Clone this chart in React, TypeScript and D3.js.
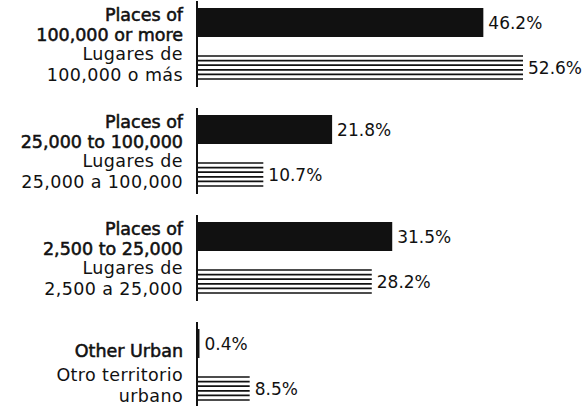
import React, { useEffect, useRef } from "react";
import * as d3 from "d3";

// Categories (English / Spanish labels, one array entry per line)
const categories = ["p100k", "p25k", "p2500", "other"];
const labelsEn: string[][] = [
  ["Places of", "100,000 or more"],
  ["Places of", "25,000 to 100,000"],
  ["Places of", "2,500 to 25,000"],
  ["Other Urban"],
];
const labelsEs: string[][] = [
  ["Lugares de", "100,000 o más"],
  ["Lugares de", "25,000 a 100,000"],
  ["Lugares de", "2,500 a 25,000"],
  ["Otro territorio", "urbano"],
];
// Series values (percent)
const valuesEn = [46.2, 21.8, 31.5, 0.4];
const valuesEs = [52.6, 10.7, 28.2, 8.5];

const W = 586;
const H = 406;

const App: React.FC = () => {
  const svgRef = useRef<SVGSVGElement>(null);

  useEffect(() => {
    if (!svgRef.current) return;
    const svg = d3.select(svgRef.current);
    svg.selectAll("*").remove();

    const axisX = 197;
    const x = d3
      .scaleLinear()
      .domain([0, 52.6])
      .range([axisX, 523]);

    const g = d3
      .scaleBand<string>()
      .domain(categories)
      .range([0, 428])
      .paddingInner(0)
      .paddingOuter(0);

    const ink = "#111";
    const blackTop = 8;
    const blackH = 29;
    const stripeTop = 55;
    const stripeH = 25;
    const nLines = 6;
    const font = "DejaVu Sans, sans-serif";

    const groups = svg
      .selectAll("g.grp")
      .data(categories)
      .join("g")
      .attr("class", "grp")
      .attr("transform", (d) => `translate(0, ${g(d)})`);

    // axis line per group
    groups
      .append("line")
      .attr("x1", axisX)
      .attr("x2", axisX)
      .attr("y1", 1)
      .attr("y2", 87)
      .attr("stroke", ink)
      .attr("stroke-width", 2);

    // solid bars (English series)
    groups
      .append("rect")
      .attr("x", axisX)
      .attr("y", blackTop)
      .attr("width", (_, i) => x(valuesEn[i]) - axisX)
      .attr("height", blackH)
      .attr("fill", ink);

    // striped bars (Spanish series)
    groups.each(function (_, i) {
      const sel = d3.select(this);
      const x2 = x(valuesEs[i]);
      d3.range(nLines).forEach((k) => {
        const yy = stripeTop + 1 + (k * (stripeH - 2)) / (nLines - 1);
        sel
          .append("line")
          .attr("x1", axisX)
          .attr("x2", x2)
          .attr("y1", yy)
          .attr("y2", yy)
          .attr("stroke", ink)
          .attr("stroke-width", 1.7);
      });
    });

    // value labels
    groups
      .append("text")
      .attr("x", (_, i) => x(valuesEn[i]) + 5)
      .attr("y", blackTop + blackH / 2 + 6)
      .attr("font-family", font)
      .attr("font-size", 17)
      .attr("fill", ink)
      .text((_, i) => `${valuesEn[i].toFixed(1)}%`);

    groups
      .append("text")
      .attr("x", (_, i) => x(valuesEs[i]) + 5)
      .attr("y", stripeTop + stripeH / 2 + 6)
      .attr("font-family", font)
      .attr("font-size", 17)
      .attr("fill", ink)
      .text((_, i) => `${valuesEs[i].toFixed(1)}%`);

    // category labels
    const labelX = 183;
    groups.each(function (_, i) {
      const sel = d3.select(this);
      const en = labelsEn[i];
      const enBase = en.length === 1 ? [36] : [21, 41];
      en.forEach((t, k) => {
        sel
          .append("text")
          .attr("x", labelX)
          .attr("y", enBase[k])
          .attr("text-anchor", "end")
          .attr("font-family", font)
          .attr("font-size", 17.5)
          .attr("fill", ink)
          .attr("stroke", ink)
          .attr("stroke-width", 0.55)
          .text(t);
      });
      const es = labelsEs[i];
      const esBase = [60, 81];
      es.forEach((t, k) => {
        sel
          .append("text")
          .attr("x", labelX)
          .attr("y", esBase[k])
          .attr("text-anchor", "end")
          .attr("font-family", font)
          .attr("font-size", 17.5)
          .attr("letter-spacing", 0.4)
          .attr("fill", ink)
          .text(t);
      });
    });
  }, []);

  return (
    <svg
      ref={svgRef}
      width={W}
      height={H}
      style={{ position: "absolute", left: 0, top: 0, background: "#fff" }}
    />
  );
};

export default App;
